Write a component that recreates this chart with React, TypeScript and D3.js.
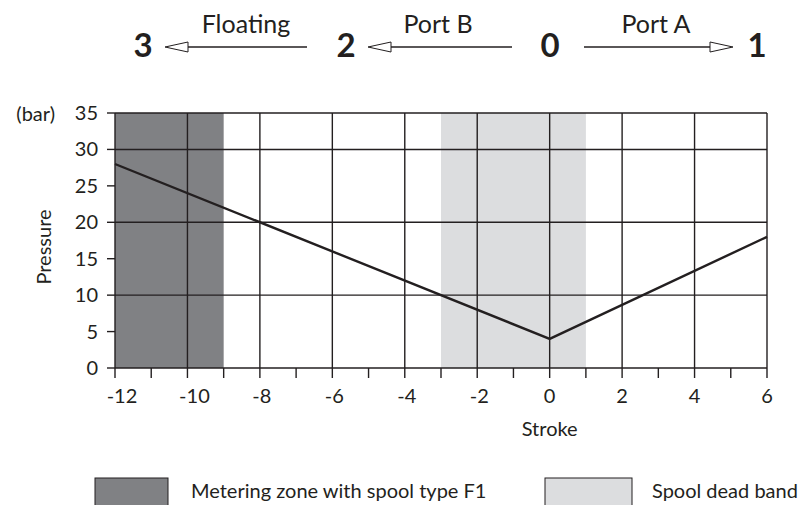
import React from "react";
import * as d3 from "d3";

const strokeValues = [-12, 0, 6];
const pressureValues = [28, 4, 18];
const meteringZone = [-12, -9];
const deadBand = [-3, 1];
const xTickLabels = [-12, -10, -8, -6, -4, -2, 0, 2, 4, 6];
const yTickLabels = [0, 5, 10, 15, 20, 25, 30, 35];
const hGrid = [0, 10, 20, 30, 35];
const positionNames = ["3", "2", "0", "1"];
const transitionNames = ["Floating", "Port B", "Port A"];
const legendNames = ["Metering zone with spool type F1", "Spool dead band"];

const W = 806, H = 505;
const M = { left: 115, right: 767, top: 113, bottom: 368 };
const FONT = "Lato, 'Open Sans', sans-serif";
const INK = "#231f20";
const FS = 20;

export default function App() {
  const x = d3.scaleLinear().domain([-12, 6]).range([M.left, M.right]);
  const y = d3.scaleLinear().domain([0, 35]).range([M.bottom, M.top]);
  const pts: [number, number][] = strokeValues.map((s, i) => [s, pressureValues[i]]);
  const line = d3.line<[number, number]>().x(d => x(d[0])).y(d => y(d[1]));
  const minorX = d3.range(-12, 7, 1);

  const arrow = (x1: number, x2: number, yy: number, key: string) => {
    const dir = x2 > x1 ? 1 : -1;
    const base = x2 - dir * 23;
    return (
      <g key={key}>
        <line x1={x1} y1={yy} x2={x2 - dir * 2} y2={yy} stroke={INK} strokeWidth={1.3} />
        <polygon points={`${x2},${yy} ${base},${yy - 5} ${base},${yy + 5}`} fill="white" stroke={INK} strokeWidth={1} />
      </g>
    );
  };

  const labelOffset = (v: number) => (v <= -10 ? 7 : v < 0 ? 2 : 0);

  return (
    <svg width={W} height={H} style={{ position: "absolute", left: 0, top: 0, background: "white" }} fontFamily={FONT}>
      <g fill={INK} fontWeight="bold" fontSize={33} textAnchor="middle">
        {[143, 346, 550, 757].map((px, i) => (
          <text key={i} x={px} y={57}>{positionNames[i]}</text>
        ))}
      </g>
      <g fill={INK} fontSize={25} textAnchor="middle">
        {[246, 438, 656].map((px, i) => (
          <text key={i} x={px} y={33}>{transitionNames[i]}</text>
        ))}
      </g>
      {arrow(307, 165, 47, "a3")}
      {arrow(512, 368, 47, "a2")}
      {arrow(584, 733, 47, "a1")}

      <rect x={x(meteringZone[0])} y={y(35)} width={x(meteringZone[1]) - x(meteringZone[0])} height={y(0) - y(35)} fill="#808184" />
      <rect x={x(deadBand[0])} y={y(35)} width={x(deadBand[1]) - x(deadBand[0])} height={y(0) - y(35)} fill="#dcdddf" />

      {hGrid.map(v => (
        <line key={"h" + v} x1={M.left} x2={M.right} y1={y(v)} y2={y(v)} stroke={INK} strokeWidth={1.4} />
      ))}
      {xTickLabels.map(v => (
        <line key={"v" + v} x1={x(v)} x2={x(v)} y1={y(35)} y2={y(0)} stroke={INK} strokeWidth={1.4} />
      ))}
      {minorX.map(v => (
        <line key={"t" + v} x1={x(v)} x2={x(v)} y1={y(0)} y2={y(0) + 10} stroke={INK} strokeWidth={1.4} />
      ))}
      {yTickLabels.map(v => (
        <line key={"yt" + v} x1={M.left - 8} x2={M.left} y1={y(v)} y2={y(v)} stroke={INK} strokeWidth={1.4} />
      ))}

      <path d={line(pts) || ""} fill="none" stroke={INK} strokeWidth={2.4} />

      <g fill={INK} fontSize={FS} textAnchor="middle">
        {xTickLabels.map(v => (
          <text key={v} x={x(v) + labelOffset(v)} y={403}>{v}</text>
        ))}
      </g>
      <g fill={INK} fontSize={FS} textAnchor="end">
        {yTickLabels.map(v => (
          <text key={v} x={98} y={y(v) + 7}>{v}</text>
        ))}
      </g>
      <text x={55} y={121} fill={INK} fontSize={FS} textAnchor="end">(bar)</text>
      <text transform={`translate(51,247) rotate(-90)`} fill={INK} fontSize={FS} textAnchor="middle">Pressure</text>
      <text x={x(0)} y={436} fill={INK} fontSize={FS} textAnchor="middle">Stroke</text>

      <rect x={95} y={478} width={73} height={30} fill="#808184" stroke={INK} strokeWidth={1} />
      <text x={191} y={498} fill={INK} fontSize={FS}>{legendNames[0]}</text>
      <rect x={545} y={478} width={87} height={30} fill="#dcdddf" stroke={INK} strokeWidth={1} />
      <text x={652} y={498} fill={INK} fontSize={FS}>{legendNames[1]}</text>
    </svg>
  );
}
